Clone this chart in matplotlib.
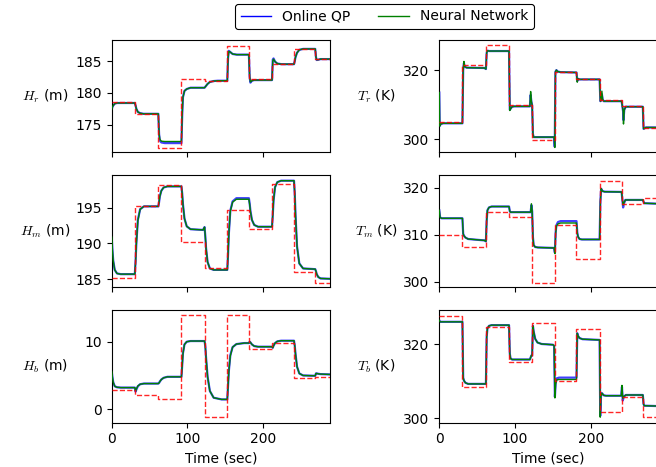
import matplotlib
matplotlib.use("Agg")
import matplotlib.pyplot as plt

plt.rcParams['font.family'] = ['DejaVu Sans']
plt.rcParams['mathtext.fontset'] = 'cm'
plt.rcParams['font.size'] = 10

# ---------------- data ----------------
sp_t = [0, 30.5, 61.5, 92, 122.5, 152.5, 181, 211.5, 240.5, 268.5, 288]

Hr_sp = [178.5, 176.6, 171.4, 182.1, 181.9, 187.4, 182.2, 184.5, 186.9, 185.3]
Hm_sp = [185.1, 195.3, 198.2, 190.2, 186.5, 194.7, 192.0, 198.4, 186.0, 184.5]
Hb_sp = [2.8, 2.1, 1.45, 13.9, -1.2, 14.0, 8.9, 9.8, 4.6, 4.8]
Tr_sp = [304.9, 321.4, 327.2, 309.8, 299.8, 319.5, 317.5, 311.2, 309.6, 303.3]
Tm_sp = [310.0, 307.3, 314.9, 313.8, 299.8, 312.0, 304.8, 321.5, 316.5, 317.8]
Tb_sp = [327.8, 308.5, 324.6, 315.1, 325.7, 310.2, 324.2, 301.8, 305.7, 300.3]

Hr_t = [0, 1, 2, 4, 7, 30.5, 31.5, 32.5, 34.5, 37.5, 42, 61.5, 62.5, 63.5, 65.5, 70,
        92, 93, 94, 96, 99, 104, 122.5, 124.5, 126.5, 129.5, 134.5, 140,
        152.5, 153.5, 154.5, 156.5, 159.5, 165, 181, 182, 183, 185, 188,
        211.5, 212.5, 213.5, 215.5, 218.5, 224, 240.5, 241.5, 242.5, 244.5, 247.5, 252.5,
        268.5, 269.5, 270.5, 272.5, 275.5, 288]
Hr_qp = [177.4, 177.8, 178.0, 178.3, 178.4, 178.4, 178.0, 177.5, 177.0, 176.8, 176.7,
         176.7, 173.5, 172.5, 172.2, 172.1, 172.1, 176.5, 179.3, 180.3, 180.6, 180.8,
         180.8, 181.1, 181.4, 181.7, 181.85, 181.9, 181.9, 185.5, 186.6, 186.4, 186.1, 186.0,
         186.0, 182.5, 181.6, 181.9, 182.0, 182.0, 185.2, 185.4, 184.9, 184.6, 184.5,
         184.5, 185.0, 185.6, 186.3, 186.75, 186.9, 186.9, 185.6, 185.15, 185.2, 185.3, 185.3]
Hr_nn = [177.4, 177.8, 178.0, 178.3, 178.4, 178.4, 178.0, 177.5, 177.0, 176.8, 176.7,
         176.7, 173.6, 172.7, 172.4, 172.35, 172.35, 176.6, 179.3, 180.3, 180.6, 180.8,
         180.8, 181.1, 181.4, 181.7, 181.85, 181.9, 181.9, 185.4, 186.5, 186.4, 186.1, 186.0,
         186.0, 182.5, 181.7, 181.9, 182.0, 182.0, 185.0, 185.3, 184.9, 184.6, 184.5,
         184.5, 185.0, 185.6, 186.3, 186.75, 186.9, 186.9, 185.6, 185.2, 185.2, 185.3, 185.3]

Hm_t = [0, 1, 2, 4, 7, 12, 30.5, 31.5, 32.5, 34.5, 37.5, 42.5, 61.5, 62.5, 63.5, 65.5, 68.5, 73.5,
        92, 93, 94, 96, 99, 104, 120.5, 122.5, 123.5, 124.5, 126.5, 129.5, 134.5,
        152.5, 153.5, 154.5, 156.5, 159.5, 164.5, 181, 182, 183, 185, 188, 193,
        211.5, 212.5, 213.5, 215.5, 218.5, 223.5, 240.5, 241.5, 242.5, 244.5, 247.5, 252.5,
        268.5, 269.5, 270.5, 272.5, 275.5, 288]
Hm_qp = [190.9, 189.0, 187.6, 186.3, 185.8, 185.7, 185.7, 187.5, 190.0, 193.3, 194.8, 195.2,
         195.2, 195.8, 196.6, 197.4, 197.85, 198.0, 198.0, 197.0, 195.5, 193.5, 192.4, 192.0,
         191.9, 192.3, 191.0, 189.3, 187.4, 186.5, 186.3, 186.3, 188.5, 191.3, 194.6, 195.9, 196.35,
         196.35, 195.6, 194.6, 193.3, 192.6, 192.35, 192.35, 194.0, 196.0, 197.9, 198.6, 198.8,
         198.8, 197.0, 194.0, 189.6, 187.2, 186.5, 186.4, 186.1, 185.7, 185.3, 185.1, 185.05]
Hm_nn = [190.9, 189.0, 187.6, 186.3, 185.8, 185.7, 185.7, 187.4, 189.9, 193.2, 194.8, 195.2,
         195.2, 195.8, 196.6, 197.4, 197.85, 198.0, 198.0, 197.0, 195.5, 193.5, 192.4, 192.0,
         191.9, 192.3, 191.0, 189.3, 187.4, 186.5, 186.3, 186.3, 188.4, 191.2, 194.5, 195.8, 196.2,
         196.2, 195.5, 194.5, 193.3, 192.6, 192.35, 192.35, 194.0, 196.0, 197.9, 198.6, 198.8,
         198.8, 197.0, 194.0, 189.6, 187.2, 186.5, 186.4, 186.1, 185.7, 185.3, 185.1, 185.05]

Hb_t = [0, 1, 2, 4, 7, 12, 30.5, 31.5, 32.5, 34.5, 37.5, 42.5, 61.5, 62.5, 63.5, 65.5, 68.5, 73.5,
        92, 93, 94, 96, 99, 104, 122.5, 123.5, 124.5, 126.5, 129.5, 134.5, 145,
        152.5, 153.5, 154.5, 156.5, 159.5, 164.5, 175, 181, 182, 183, 185, 188, 193,
        211.5, 212.5, 213.5, 215.5, 218.5, 223.5, 240.5, 241.5, 242.5, 244.5, 247.5, 252.5,
        268.5, 269.5, 270.5, 272.5, 275.5, 288]
Hb_qp = [5.6, 4.7, 4.0, 3.4, 3.25, 3.2, 3.2, 2.6, 2.9, 3.4, 3.7, 3.8, 3.8, 3.9, 4.1, 4.4, 4.65, 4.8,
         4.8, 6.5, 8.3, 9.6, 10.0, 10.1, 10.1, 9.3, 7.6, 4.8, 2.7, 1.7, 1.45,
         1.45, 3.5, 5.6, 8.0, 9.2, 9.65, 9.8, 9.8, 10.0, 9.9, 9.6, 9.35, 9.26,
         9.26, 9.1, 9.4, 9.8, 10.05, 10.15, 10.15, 9.4, 8.2, 6.3, 5.3, 5.0,
         4.95, 5.3, 5.3, 5.25, 5.2, 5.15]
Hb_nn = [5.6, 4.7, 4.0, 3.4, 3.25, 3.2, 3.2, 2.7, 3.0, 3.45, 3.7, 3.8, 3.8, 3.9, 4.1, 4.4, 4.65, 4.8,
         4.8, 6.4, 8.2, 9.6, 10.0, 10.1, 10.1, 9.3, 7.6, 4.8, 2.7, 1.7, 1.45,
         1.45, 3.4, 5.5, 7.9, 9.2, 9.65, 9.8, 9.8, 10.0, 9.9, 9.6, 9.35, 9.26,
         9.26, 9.1, 9.4, 9.8, 10.05, 10.15, 10.15, 9.4, 8.2, 6.3, 5.3, 5.0,
         4.95, 5.3, 5.3, 5.25, 5.2, 5.15]

Tr_t = [0, 0.5, 2, 5, 30.5, 31.5, 32.5, 33.5, 36, 59.5, 61.5, 62.5, 63.5, 66,
        92, 93, 94, 96, 99, 119.5, 120.5, 121.5, 122.5, 123.5, 124.5,
        151.5, 152.3, 153.2, 154.5, 156, 160, 181, 182, 183, 185,
        211.5, 212.5, 213.5, 214.5, 215.5, 217, 240.5, 241.5, 242.5, 243, 244, 246,
        268.5, 269.5, 270.5, 272.5, 288]
Tr_qp = [313.5, 303.8, 304.4, 304.6, 304.6, 320.0, 322.0, 321.0, 320.7, 320.6, 320.3, 325.0, 325.6, 325.5,
         325.5, 308.5, 308.8, 309.4, 309.5, 309.5, 312.8, 310.8, 309.8, 301.5, 300.6,
         300.6, 297.8, 319.5, 320.0, 319.6, 319.4, 319.3, 316.8, 317.5, 317.3,
         317.3, 311.0, 311.2, 313.0, 311.5, 311.0, 311.0, 309.6, 308.0, 305.5, 308.5, 309.4,
         309.4, 303.0, 303.1, 303.4, 303.4]
Tr_nn = [313.5, 303.8, 304.4, 304.6, 304.6, 320.0, 322.5, 321.0, 320.7, 320.6, 320.3, 325.0, 325.6, 325.5,
         325.5, 308.3, 308.8, 309.4, 309.5, 309.5, 313.8, 311.0, 309.8, 301.5, 300.6,
         300.6, 297.6, 319.5, 320.0, 319.6, 319.4, 319.3, 316.5, 317.5, 317.3,
         317.3, 311.0, 311.2, 313.9, 311.5, 311.0, 311.0, 309.6, 308.0, 304.4, 308.5, 309.4,
         309.4, 303.0, 303.1, 303.4, 303.4]

Tm_t = [0, 1, 3, 30.5, 31.5, 32.5, 34.5, 38, 45, 59.5, 61.5, 62.5, 63.5, 65.5, 69,
        92, 93, 94, 120.5, 121.5, 122.5, 123.5, 124.5, 126.5, 130,
        151.5, 152.5, 153.5, 154.5, 156.5, 160, 181, 182, 183, 185, 188,
        211.5, 212.5, 213.5, 215, 218, 240.5, 241.5, 242.5, 243.5, 245.5,
        268.5, 269.5, 270.5, 288]
Tm_qp = [315.2, 313.7, 313.5, 313.5, 310.2, 309.8, 309.4, 309.1, 309.0, 308.8, 308.6, 313.0, 315.2, 315.8, 316.0,
         316.0, 315.0, 314.8, 314.8, 316.3, 315.0, 309.5, 307.8, 307.4, 307.3,
         307.2, 306.2, 310.5, 312.0, 312.7, 312.9, 312.9, 310.5, 309.6, 309.1, 309.0,
         309.0, 317.0, 319.8, 319.3, 319.15, 319.1, 317.5, 315.8, 316.6, 317.4,
         317.4, 317.0, 316.7, 316.6]
Tm_nn = [315.2, 313.7, 313.5, 313.5, 310.2, 309.8, 309.4, 309.1, 309.0, 308.8, 308.6, 313.0, 315.2, 315.8, 316.0,
         316.0, 315.0, 314.8, 314.8, 316.6, 315.0, 309.5, 307.8, 307.4, 307.3,
         307.2, 306.0, 310.3, 311.8, 312.3, 312.5, 312.5, 310.4, 309.6, 309.1, 309.0,
         309.0, 317.0, 319.8, 319.3, 319.15, 319.1, 317.5, 316.3, 316.8, 317.4,
         317.4, 317.0, 316.7, 316.6]

Tb_t = [0, 1, 30.5, 31.5, 32.5, 34.5, 38, 61.5, 62.5, 63.5, 65.5, 69, 92, 93, 94, 96,
        119.5, 121.5, 122.5, 123.5, 124.5, 126.5, 129.5, 135, 150,
        151.5, 152.5, 153.5, 155, 158, 181, 182, 183, 185, 189,
        211.5, 212.3, 213.3, 214.5, 217, 220, 240, 241, 242, 243.5, 246,
        268.5, 269.5, 270.5, 288]
Tb_qp = [326.5, 326.1, 326.1, 311.0, 310.2, 309.6, 309.3, 309.3, 322.0, 324.3, 325.0, 325.2,
         325.2, 317.5, 316.2, 315.9, 315.9, 317.0, 317.0, 325.0, 323.5, 321.5, 320.5, 320.1, 319.9,
         319.6, 305.8, 309.5, 310.8, 311.0, 311.0, 323.0, 322.3, 321.7, 321.4,
         321.2, 300.6, 306.0, 306.8, 306.2, 306.1, 306.1, 308.5, 304.8, 305.8, 306.3,
         306.3, 303.8, 303.4, 303.3]
Tb_nn = [326.5, 326.1, 326.1, 311.0, 310.2, 309.6, 309.3, 309.3, 322.0, 324.3, 325.0, 325.2,
         325.2, 317.5, 316.2, 315.9, 315.9, 317.0, 317.0, 325.0, 323.5, 321.5, 320.5, 320.1, 319.9,
         319.6, 305.5, 309.3, 310.4, 310.5, 310.5, 323.0, 322.3, 321.7, 321.4,
         321.2, 300.3, 306.0, 306.8, 306.2, 306.1, 306.1, 308.9, 305.4, 305.9, 306.3,
         306.3, 303.8, 303.4, 303.3]

labels = ["$H_r$ (m)", "$H_m$ (m)", "$H_b$ (m)", "$T_r$ (K)", "$T_m$ (K)", "$T_b$ (K)"]
yticks = [[175, 180, 185], [185, 190, 195], [0, 10], [300, 320], [300, 310, 320], [300, 320]]
ylims = [(170.7, 188.3), (183.9, 199.6), (-2.0, 14.7), (296.3, 328.7), (298.9, 322.7), (298.8, 329.3)]
xticks = [0, 100, 200]

panels = [(Hr_t, Hr_qp, Hr_nn, Hr_sp), (Hm_t, Hm_qp, Hm_nn, Hm_sp), (Hb_t, Hb_qp, Hb_nn, Hb_sp),
          (Tr_t, Tr_qp, Tr_nn, Tr_sp), (Tm_t, Tm_qp, Tm_nn, Tm_sp), (Tb_t, Tb_qp, Tb_nn, Tb_sp)]

# ---------------- figure ----------------
fig = plt.figure(figsize=(6.56, 4.67), dpi=100)
W, H = 656.0, 467.0
col_left = [111.7, 439.3]
ax_w = 218.3
row_tb = [(40, 152), (175, 287), (310, 422.7)]

handles = None
for i, (t, qp, nn, sp) in enumerate(panels):
    col = i // 3
    row = i % 3
    top, bot = row_tb[row]
    ax = fig.add_axes([col_left[col] / W, 1 - bot / H, ax_w / W, (bot - top) / H])
    l1, = ax.plot(t, qp, color='blue', lw=1.6, alpha=0.75, label='Online QP', zorder=2)
    l2, = ax.plot(t, nn, color='green', lw=1.0, label='Neural Network', zorder=3)
    ax.step(sp_t, sp + [sp[-1]], where='post', color='red', ls='--', lw=1.0, alpha=0.85, zorder=4)
    handles = [l1, l2]
    ax.set_xlim(0, 288)
    ax.set_ylim(*ylims[i])
    ax.set_yticks(yticks[i])
    ax.set_xticks(xticks)
    if row < 2:
        ax.tick_params(labelbottom=False)
    else:
        ax.set_xlabel("Time (sec)")
    ax.set_ylabel(labels[i], rotation=0, ha='center', va='center')
    ax.yaxis.set_label_coords(-0.305 if col == 0 else -0.29, 0.5)
    for s in ax.spines.values():
        s.set_linewidth(0.8)

leg = fig.legend(handles, ['Online QP', 'Neural Network'], loc='center',
                 bbox_to_anchor=(384.5 / W, 1 - 16.5 / H), ncol=2, frameon=True,
                 fancybox=True, edgecolor='black', framealpha=1.0, handlelength=2.2,
                 columnspacing=2.0)
for lh in leg.get_lines():
    lh.set_alpha(1.0)
    lh.set_linewidth(1.0)
leg.get_frame().set_linewidth(0.8)

fig.savefig("out.png", dpi=100)
